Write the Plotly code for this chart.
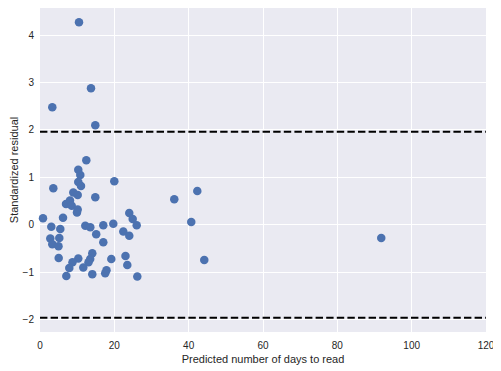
import plotly.graph_objects as go

pred_days = [10.49, 3.31, 13.72, 14.88, 12.46, 10.30, 10.84, 19.99, 10.30, 11.03,
             3.58, 8.96, 10.14, 14.88, 7.00, 8.07, 8.53, 10.14, 9.95, 6.19,
             0.81, 24.02, 24.94, 26.02, 19.72, 17.03, 12.19, 13.53, 3.04, 5.46,
             15.12, 22.41, 24.02, 5.19, 2.77, 3.31, 4.98, 17.03, 14.07, 5.03,
             10.30, 13.51, 13.05, 8.74, 23.00, 19.18, 23.49, 7.88, 11.65, 17.89,
             17.54, 14.07, 7.08, 26.18, 36.13, 42.32, 40.70, 44.20, 91.82]
std_resid = [4.27, 2.48, 2.88, 2.10, 1.36, 1.16, 1.05, 0.92, 0.90, 0.82,
             0.77, 0.68, 0.63, 0.58, 0.44, 0.51, 0.40, 0.32, 0.26, 0.15,
             0.14, 0.25, 0.12, -0.01, 0.02, -0.01, -0.02, -0.05, -0.04, -0.09,
             -0.20, -0.14, -0.23, -0.28, -0.29, -0.41, -0.45, -0.37, -0.60, -0.70,
             -0.71, -0.72, -0.79, -0.79, -0.66, -0.72, -0.85, -0.91, -0.90, -0.96,
             -1.02, -1.04, -1.08, -1.09, 0.54, 0.71, 0.06, -0.74, -0.28]
thresholds = [1.96, -1.96]
x_ticks = [0, 20, 40, 60, 80, 100, 120]
y_ticks = [-2, -1, 0, 1, 2, 3, 4]

fig = go.Figure()
fig.add_trace(go.Scatter(
    x=pred_days, y=std_resid, mode="markers",
    marker=dict(color="#4C72B0", size=8.5, line=dict(width=0)),
    showlegend=False, cliponaxis=False))

for t in thresholds:
    fig.add_hline(y=t, line=dict(color="black", width=2, dash="7.4px,3.2px"), layer="above")

fig.update_layout(
    width=501, height=371,
    margin=dict(l=32, r=23, t=0, b=47, autoexpand=False),
    paper_bgcolor="white", plot_bgcolor="#EAEAF2",
    font=dict(family="Liberation Sans, Arial, sans-serif", size=10, color="#262626"),
    xaxis=dict(range=[0, 120], tickvals=x_ticks, showgrid=True, gridcolor="white",
               gridwidth=1, zeroline=False, showline=False, ticks="", automargin=False,
               ticklabelstandoff=6,
               title=dict(text="Predicted number of days to read", font=dict(size=11), standoff=5)),
    yaxis=dict(range=[-2.26, 4.57], tickvals=y_ticks, showgrid=True, gridcolor="white",
               gridwidth=1, zeroline=False, showline=False, ticks="", automargin=False,
               ticklabelstandoff=5,
               title=dict(text="Standardized residual", font=dict(size=11), standoff=5)),
)

fig.write_html("out.html")
